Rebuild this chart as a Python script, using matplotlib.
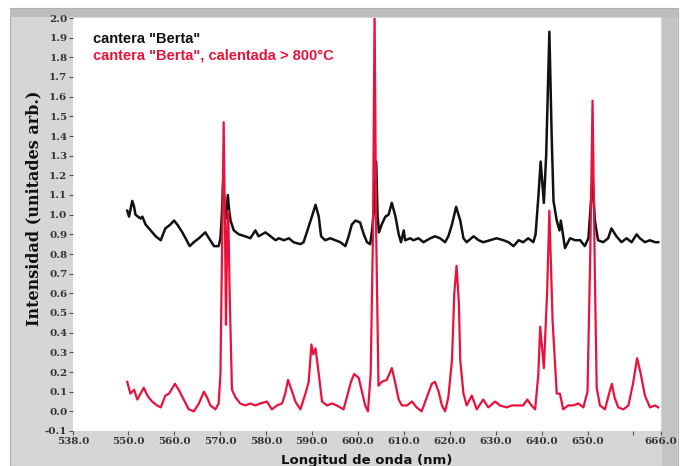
import matplotlib
matplotlib.use('Agg')
import matplotlib.pyplot as plt
from matplotlib.patches import Rectangle

# Spectrum of the untreated stone (black)
berta_nm = [549.8, 550.2, 550.9, 551.3, 551.6, 552.7, 553.1, 553.8, 554.9, 556.0,
            557.1, 558.1, 559.2, 560.0, 560.7, 561.8, 562.5, 563.4, 564.3, 565.4,
            566.8, 567.6, 568.7, 569.7, 570.1, 570.4, 570.7, 571.0, 571.3, 571.7,
            572.0, 572.3, 573.0, 574.1, 575.5, 576.6, 577.7, 578.4, 579.9, 581.0,
            582.1, 582.8, 583.9, 585.0, 586.0, 587.5, 588.2, 588.9, 590.0, 590.8,
            591.5, 592.0, 592.9, 594.0, 595.1, 596.2, 597.3, 598.0, 598.7, 599.5,
            600.5, 601.3, 602.0, 602.7, 603.1, 603.6, 604.0, 604.3, 604.6, 605.2,
            606.0, 606.7, 607.4, 608.2, 608.9, 609.4, 610.0, 610.3, 611.4, 612.1,
            613.2, 614.3, 615.8, 616.8, 617.9, 619.0, 619.7, 620.5, 621.4, 622.3,
            623.0, 623.7, 625.2, 626.3, 627.3, 628.8, 630.2, 631.7, 632.8, 633.9,
            635.0, 636.0, 637.1, 638.2, 638.7, 639.3, 639.8, 640.5, 641.0, 641.7,
            642.2, 642.6, 643.3, 643.9, 644.2, 645.1, 646.2, 647.3, 648.4, 649.4,
            650.2, 650.7, 651.1, 651.6, 652.3, 653.4, 654.5, 655.2, 656.3, 657.4,
            658.5, 659.6, 660.7, 661.4, 662.5, 663.6, 664.7, 665.4]
berta_int = [1.02, 0.99, 1.07, 1.04, 1.00, 0.98, 0.99, 0.95, 0.92, 0.89,
             0.87, 0.93, 0.95, 0.97, 0.95, 0.91, 0.88, 0.84, 0.86, 0.88,
             0.91, 0.88, 0.84, 0.84, 0.88, 1.00, 1.18, 1.02, 0.98, 1.10,
             1.02, 0.97, 0.92, 0.90, 0.89, 0.88, 0.92, 0.89, 0.91, 0.89,
             0.87, 0.88, 0.87, 0.88, 0.86, 0.85, 0.86, 0.91, 0.99, 1.05,
             0.99, 0.89, 0.87, 0.88, 0.87, 0.86, 0.84, 0.89, 0.95, 0.97,
             0.96, 0.90, 0.86, 0.85, 0.92, 1.05, 1.27, 1.00, 0.91, 0.95,
             0.99, 1.00, 1.06, 0.99, 0.90, 0.86, 0.92, 0.87, 0.88, 0.87,
             0.88, 0.86, 0.88, 0.89, 0.88, 0.86, 0.89, 0.95, 1.04, 0.97,
             0.88, 0.86, 0.89, 0.87, 0.86, 0.87, 0.88, 0.87, 0.86, 0.84,
             0.87, 0.86, 0.88, 0.86, 0.90, 1.09, 1.27, 1.06, 1.30, 1.93,
             1.40, 1.07, 0.97, 0.92, 0.97, 0.83, 0.88, 0.87, 0.87, 0.84,
             0.88, 1.05, 1.18, 0.97, 0.87, 0.86, 0.88, 0.93, 0.89, 0.86,
             0.88, 0.86, 0.90, 0.88, 0.86, 0.87, 0.86, 0.86]

# Same stone after heating above 800 C (red)
heated_nm = [549.8, 550.5, 551.3, 552.0, 552.7, 553.4, 554.2, 555.2, 556.3, 557.1,
             558.1, 558.9, 560.2, 561.0, 562.1, 563.2, 564.3, 565.4, 566.5, 567.2,
             567.9, 569.0, 569.7, 570.1, 570.5, 570.8, 571.1, 571.3, 571.6, 571.8,
             572.1, 572.6, 573.4, 574.4, 575.5, 576.6, 577.7, 578.8, 580.2, 581.3,
             582.4, 583.5, 584.2, 584.8, 585.7, 586.4, 587.5, 588.6, 589.3, 589.9,
             590.3, 590.8, 591.5, 592.2, 593.3, 594.4, 595.4, 596.9, 597.6, 598.5,
             599.2, 600.2, 600.9, 601.6, 602.2, 602.8, 603.3, 603.65, 604.0, 604.5,
             605.2, 606.3, 607.4, 608.1, 608.9, 609.6, 610.7, 611.8, 612.8, 613.9,
             615.0, 616.1, 616.8, 617.6, 618.3, 619.0, 619.7, 620.5, 621.0, 621.5,
             622.0, 622.3, 623.0, 623.7, 624.8, 625.9, 627.3, 628.4, 629.9, 630.9,
             632.4, 633.5, 635.0, 636.0, 636.9, 637.8, 638.6, 639.3, 639.7, 640.5,
             641.2, 641.7, 642.4, 643.3, 644.0, 644.7, 645.8, 646.9, 648.0, 649.1,
             650.0, 650.6, 651.1, 651.6, 652.0, 652.7, 653.8, 654.7, 655.3, 655.9,
             656.7, 657.8, 658.9, 659.9, 660.8, 661.5, 662.5, 663.6, 664.7, 665.4]
heated_int = [0.15, 0.09, 0.11, 0.06, 0.09, 0.12, 0.08, 0.05, 0.03, 0.02,
              0.08, 0.09, 0.14, 0.11, 0.06, 0.01, 0.00, 0.04, 0.10, 0.07,
              0.03, 0.01, 0.04, 0.19, 0.90, 1.47, 0.90, 0.44, 0.95, 1.02,
              0.60, 0.11, 0.07, 0.04, 0.03, 0.04, 0.03, 0.04, 0.05, 0.01,
              0.03, 0.04, 0.09, 0.16, 0.10, 0.05, 0.01, 0.09, 0.15, 0.34,
              0.29, 0.32, 0.19, 0.05, 0.03, 0.04, 0.03, 0.01, 0.07, 0.15,
              0.19, 0.17, 0.10, 0.03, 0.00, 0.19, 0.90, 2.03, 0.90, 0.13,
              0.15, 0.16, 0.22, 0.15, 0.06, 0.03, 0.03, 0.05, 0.02, 0.00,
              0.07, 0.14, 0.15, 0.10, 0.03, 0.00, 0.07, 0.26, 0.60, 0.74,
              0.55, 0.26, 0.09, 0.03, 0.08, 0.01, 0.06, 0.02, 0.05, 0.03,
              0.02, 0.03, 0.03, 0.03, 0.06, 0.03, 0.01, 0.19, 0.43, 0.22,
              0.60, 1.02, 0.46, 0.09, 0.09, 0.01, 0.03, 0.03, 0.04, 0.02,
              0.10, 0.80, 1.58, 0.70, 0.12, 0.03, 0.01, 0.09, 0.14, 0.07,
              0.02, 0.01, 0.03, 0.14, 0.27, 0.20, 0.08, 0.02, 0.03, 0.02]

x_ticks = [538, 550, 560, 570, 580, 590, 600, 610, 620, 630, 640, 650, 660, 666]
x_labels = ['538.0', '550.0', '560.0', '570.0', '580.0', '590.0', '600.0', '610.0',
            '620.0', '630.0', '640.0', '650.0', '', '666.0']
y_ticks = [i / 10 for i in range(-1, 21)]

red = '#e8123c'

fig = plt.figure(figsize=(6.84, 4.66), dpi=100, facecolor='white')

# gray panel behind the plot, with a darker bevel on top and right
W, H = 684, 466
fig.patches.append(Rectangle((10 / W, 0), 668 / W, 458 / H, transform=fig.transFigure,
                             facecolor='#d6d6d6', edgecolor='#b0b0b0', lw=0.8, zorder=-10))
fig.patches.append(Rectangle((10 / W, 449 / H), 668 / W, 8 / H, transform=fig.transFigure,
                             facecolor='#bdbdbd', edgecolor='none', zorder=-9))
fig.patches.append(Rectangle((662 / W, 0), 15 / W, 449 / H, transform=fig.transFigure,
                             facecolor='#c4c4c4', edgecolor='none', zorder=-9))

ax = fig.add_axes([73 / W, 35 / H, 588 / W, 413 / H])
ax.set_facecolor('white')

ax.plot(berta_nm, berta_int, color='#111111', lw=1.8)
ax.plot(heated_nm, heated_int, color=red, lw=1.6)

ax.set_xlim(538, 666)
ax.set_ylim(-0.1, 2.0)
ax.set_xticks(x_ticks)
ax.set_xticklabels(x_labels)
ax.set_yticks(y_ticks)
ax.set_yticklabels(['%.1f' % v for v in y_ticks])
ax.tick_params(labelsize=7.5, length=3, width=0.8, color='#555555', labelcolor='#333333', pad=1)
for lab in ax.get_xticklabels() + ax.get_yticklabels():
    lab.set_fontweight('bold')
    lab.set_family('DejaVu Serif')
for s in ax.spines.values():
    s.set_visible(False)

ax.set_xlabel('Longitud de onda (nm)', fontsize=9.5, fontweight='bold', color='#111111', labelpad=6)
ax.set_ylabel('Intensidad (unitades arb.)', fontsize=11.5, fontweight='bold', family='DejaVu Serif',
              color='#111111')
ax.yaxis.set_label_coords(-0.052, 0.54)

# legend written as plain text in the top-left corner
ax.text(0.034, 0.949, 'cantera "Berta"', transform=ax.transAxes, fontsize=10.5,
        fontweight='bold', family='Liberation Sans', color='#111111', va='center')
ax.text(0.034, 0.908, 'cantera "Berta", calentada > 800°C', transform=ax.transAxes, fontsize=10.5,
        fontweight='bold', family='Liberation Sans', color=red, va='center')

plt.savefig('out.png', dpi=100, facecolor=fig.get_facecolor())
